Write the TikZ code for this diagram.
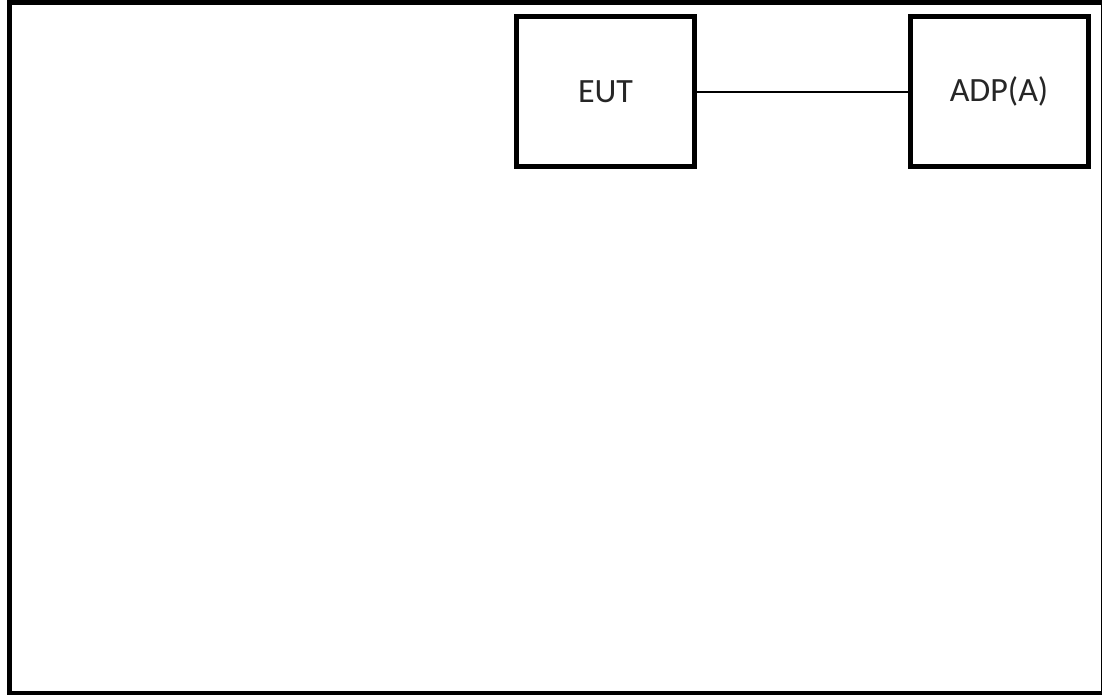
\documentclass[tikz,border=0pt]{standalone}
\usepackage{fontspec}
\setmainfont{Carlito}
\begin{document}
\begin{tikzpicture}[x=1pt,y=-1pt,
  box/.style={draw=black,line width=5pt,fill=white,minimum width=178pt,minimum height=150pt,inner sep=0pt,font=\fontsize{34}{40}\selectfont,text=black!85},
  wire/.style={draw=black,line width=2pt}]
\useasboundingbox (0,0) rectangle (1102,694);
\begin{scope}
\clip (0,0) rectangle (1102,694);
\draw[line width=5pt] (9.5,2.5) rectangle (1103.5,693.5);
\end{scope}
\node[box] (eut) at (605.5,91.5) {EUT};
\node[box] (adp) at (999,91.5) {ADP(A)};
\draw[wire] (eut.east) -- (adp.west);
\end{tikzpicture}
\end{document}
